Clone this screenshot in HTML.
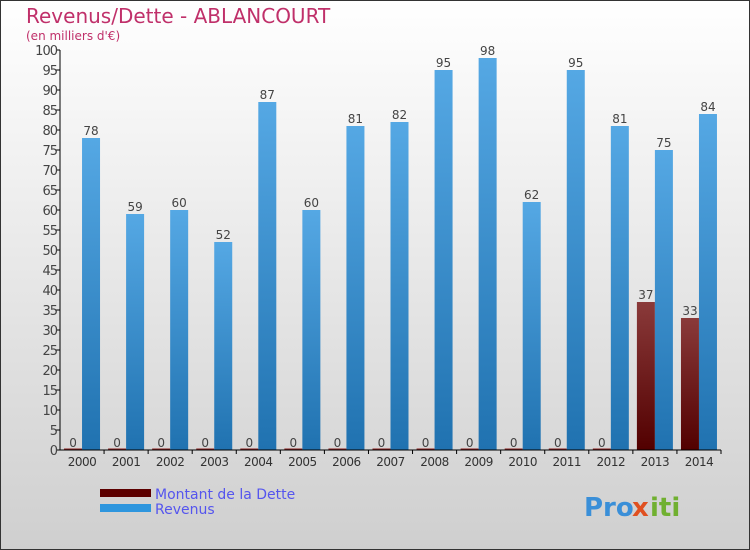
<!DOCTYPE html>
<html><head><meta charset="utf-8"><style>
body{margin:0}
svg{display:block;font-family:"DejaVu Sans","Liberation Sans",sans-serif}
</style></head><body>
<svg id="c" width="750" height="550" xmlns="http://www.w3.org/2000/svg">
<defs>
<linearGradient id="bg" x1="0" y1="0" x2="0" y2="1"><stop offset="0" stop-color="#ffffff"/><stop offset="1" stop-color="#cfcfcf"/></linearGradient>
<linearGradient id="rev" x1="0" y1="0" x2="0" y2="1"><stop offset="0" stop-color="#55a8e4"/><stop offset="1" stop-color="#2072b0"/></linearGradient>
<linearGradient id="debt" x1="0" y1="0" x2="0" y2="1"><stop offset="0" stop-color="#8a3a3a"/><stop offset="1" stop-color="#520000"/></linearGradient>
</defs>
<rect x="0.5" y="0.5" width="749" height="549" fill="url(#bg)" stroke="#333"/>
<text x="26" y="23" font-size="20" fill="#c0306a">Revenus/Dette - ABLANCOURT</text>
<text x="26" y="40" font-size="12" fill="#c0306a">(en milliers d'€)</text>
<g id="plot"></g>
<g>
<rect x="100" y="489" width="51" height="8" fill="#5c0000"/>
<text x="155" y="499" font-size="14" fill="#5555ee">Montant de la Dette</text>
<rect x="100" y="504" width="51" height="8" fill="#2e96de"/>
<text x="155" y="514" font-size="14" fill="#5555ee">Revenus</text>
</g>
<g font-size="26" font-weight="bold">
<text x="584" y="516" fill="#3a8fd8">Pro</text><text x="632" y="516" fill="#e05020">x</text><text x="650" y="516" fill="#70b030">iti</text>
</g>
</svg>
<script>
const years=["2000","2001","2002","2003","2004","2005","2006","2007","2008","2009","2010","2011","2012","2013","2014"];
const revenus=[78,59,60,52,87,60,81,82,95,98,62,95,81,75,84];
const dette=[0,0,0,0,0,0,0,0,0,0,0,0,0,37,33];
const yTicks=[0,5,10,15,20,25,30,35,40,45,50,55,60,65,70,75,80,85,90,95,100];
const NS="http://www.w3.org/2000/svg";
const g=document.getElementById('plot');
const x0=60,x1=721,y0=450,y1=50,yMax=100;
const step=(x1-x0)/years.length;
const X=i=>x0+step*(i+0.5);
const Y=v=>y0-(v/yMax)*(y0-y1);
function mk(t,a,txt){const e=document.createElementNS(NS,t);for(const k in a)e.setAttribute(k,a[k]);if(txt!==undefined)e.textContent=txt;g.appendChild(e);return e;}
yTicks.forEach(v=>{
 const l=mk('line',{x1:x0-4,x2:x0,y1:Y(v),y2:Y(v),stroke:'#000'});
 
 
 const t=mk('text',{x:x0-3,y:Y(v)+5,'text-anchor':'end','font-size':13,fill:'#444','letter-spacing':'-1'},v);
 
 
});
years.forEach((yr,i)=>{
 const c=X(i);
 const db=mk('rect',{x:c-18,y:Y(dette[i]),width:18,height:Math.max(y0-Y(dette[i]),1.5),fill:dette[i]?'url(#debt)':'#8a2020'});
 if(!dette[i]){db.setAttribute('y',y0-1.5);}
 
 
 const rb=mk('rect',{x:c,y:Y(revenus[i]),width:18,height:y0-Y(revenus[i]),fill:'url(#rev)'});
 
 
 const dl=mk('text',{x:c-9,y:Y(dette[i])-3,'text-anchor':'middle','font-size':12,fill:'#444'},dette[i]);
 
 
 const rl=mk('text',{x:c+9,y:Y(revenus[i])-3,'text-anchor':'middle','font-size':12,fill:'#444'},revenus[i]);
 
 
 const xl=mk('text',{x:c,y:y0+16,'text-anchor':'middle','font-size':12,fill:'#333','letter-spacing':'-0.5'},yr);
 
 
 const tk=mk('line',{x1:x0+step*(i+1),x2:x0+step*(i+1),y1:y0,y2:y0+4,stroke:'#000'});
 
 
});
const ya=mk('line',{x1:x0,x2:x0,y1:y1,y2:y0,stroke:'#000'});


const xa=mk('line',{x1:x0,x2:x1,y1:y0,y2:y0,stroke:'#000'});


</script>
</body></html>
